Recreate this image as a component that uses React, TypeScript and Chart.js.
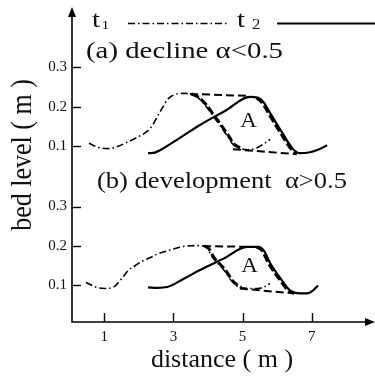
import React, { useEffect, useRef } from "react";
import { Chart, registerables } from "chart.js";

Chart.register(...registerables);

const FONT = "'Liberation Serif', 'Times New Roman', serif";

// axis ticks
const xTicks = [1, 3, 5, 7];
const yTicks = [0.1, 0.2, 0.3];
// vertical shift of each panel on the shared axis
const offsetA = 0.3525;
const offsetB = 0;

// ---- panel (a) decline ----
const aT1X = [0.56, 0.82, 1.11, 1.4, 1.66, 1.95, 2.24, 2.41, 2.55, 2.7, 2.82, 2.96, 3.1, 3.31, 3.48, 3.68, 3.91, 4.14, 4.35, 4.55, 4.72, 4.92, 5.13, 5.3, 5.45, 5.59, 5.8];
const aT1Y = [0.1075, 0.0975, 0.094, 0.1, 0.11, 0.1225, 0.1375, 0.155, 0.1775, 0.2, 0.2175, 0.2275, 0.2325, 0.234, 0.2325, 0.225, 0.205, 0.1775, 0.1525, 0.1275, 0.105, 0.095, 0.091, 0.0925, 0.0975, 0.105, 0.1175];
const aT2X = [2.27, 2.47, 2.61, 3.2, 3.77, 4.5, 5.21, 5.45, 5.62, 5.79, 6.14, 6.46, 6.66, 6.95, 7.18, 7.44];
const aT2Y = [0.0825, 0.084, 0.09, 0.122, 0.154, 0.19, 0.225, 0.2225, 0.21, 0.185, 0.135, 0.0925, 0.0825, 0.085, 0.091, 0.1025];
const aTopX = [3.48, 5.21];
const aTopY = [0.2325, 0.2275];
const aBotX = [4.72, 6.57];
const aBotY = [0.0925, 0.08];
const aT1LeeX = [3.52, 3.72, 3.95, 4.18, 4.39, 4.59, 4.76, 4.96];
const aT1LeeY = [0.2325, 0.225, 0.205, 0.1775, 0.1525, 0.1275, 0.105, 0.095];
const aT2LeeX = [5.4, 5.57, 5.74, 6.09, 6.41, 6.55];
const aT2LeeY = [0.2225, 0.21, 0.185, 0.135, 0.0925, 0.083];

// ---- panel (b) development ----
const bT1X = [0.47, 0.79, 1.02, 1.25, 1.51, 1.69, 1.89, 2.12, 2.32, 2.55, 2.82, 3.1, 3.39, 3.68, 3.86, 3.97, 4.14, 4.43, 4.72, 4.92, 5.21, 5.42, 5.59, 5.79];
const bT1Y = [0.1075, 0.095, 0.0925, 0.095, 0.1175, 0.1375, 0.15, 0.1625, 0.17, 0.18, 0.1875, 0.195, 0.2, 0.201, 0.2, 0.195, 0.17, 0.1425, 0.1075, 0.095, 0.0925, 0.0925, 0.095, 0.105];
const bT2X = [2.27, 2.55, 2.82, 3.3, 3.77, 4.45, 5.13, 5.45, 5.62, 5.79, 6.14, 6.37, 6.66, 6.86, 7.03, 7.18];
const bT2Y = [0.095, 0.094, 0.096, 0.117, 0.139, 0.168, 0.1975, 0.1975, 0.1875, 0.1575, 0.1125, 0.0875, 0.08, 0.08, 0.087, 0.1];
const bTopX = [3.86, 5.3];
const bTopY = [0.2, 0.1975];
const bBotX = [4.92, 6.46];
const bBotY = [0.0925, 0.08];
const bT1LeeX = [3.9, 4.01, 4.18, 4.47, 4.76, 4.96];
const bT1LeeY = [0.2, 0.195, 0.17, 0.1425, 0.1075, 0.095];
const bT2LeeX = [5.4, 5.57, 5.74, 6.09, 6.32, 6.5];
const bT2LeeY = [0.1975, 0.1875, 0.1575, 0.1125, 0.0875, 0.08];

const T1_DASH = [7, 3, 1.5, 3];

function pts(xs: number[], ys: number[], off: number) {
  return xs.map((x, i) => ({ x, y: ys[i] + off }));
}

function ds(data: any[], width: number, dash: number[], smooth = true) {
  return {
    data,
    borderColor: "#000",
    borderWidth: width,
    borderDash: dash,
    borderCapStyle: "butt",
    pointRadius: 0,
    fill: false,
    cubicInterpolationMode: smooth ? "monotone" : "default",
    tension: smooth ? 0.4 : 0,
  };
}

function stretchText(ctx: CanvasRenderingContext2D, text: string, x: number, y: number, font: string, sx: number, align: CanvasTextAlign = "left") {
  ctx.save();
  ctx.font = font;
  ctx.translate(x, y);
  ctx.scale(sx, 1);
  ctx.textAlign = align;
  ctx.textBaseline = "alphabetic";
  ctx.fillText(text, 0, 0);
  ctx.restore();
}

function fitText(ctx: CanvasRenderingContext2D, text: string, x: number, y: number, font: string, width: number) {
  ctx.save();
  ctx.font = font;
  const w = ctx.measureText(text).width;
  ctx.translate(x, y);
  ctx.scale(width / w, 1);
  ctx.textAlign = "left";
  ctx.textBaseline = "alphabetic";
  ctx.fillText(text, 0, 0);
  ctx.restore();
}

const decor = {
  id: "decor",
  afterDraw(chart: any) {
    const ctx: CanvasRenderingContext2D = chart.ctx;
    const xs = chart.scales.x;
    const ys = chart.scales.y;
    const left = chart.chartArea.left;
    const bottom = chart.chartArea.bottom;
    ctx.save();
    ctx.strokeStyle = "#000";
    ctx.fillStyle = "#000";
    ctx.lineWidth = 1.6;
    // axes
    ctx.beginPath();
    ctx.moveTo(left, 14);
    ctx.lineTo(left, bottom);
    ctx.lineTo(368, bottom);
    ctx.stroke();
    // arrowheads
    ctx.beginPath();
    ctx.moveTo(left, 7);
    ctx.lineTo(left - 4, 17);
    ctx.lineTo(left + 4, 17);
    ctx.closePath();
    ctx.fill();
    ctx.beginPath();
    ctx.moveTo(375, bottom);
    ctx.lineTo(365, bottom - 4);
    ctx.lineTo(365, bottom + 4);
    ctx.closePath();
    ctx.fill();
    // inward tick marks
    ctx.lineWidth = 1.4;
    ys.ticks.forEach((t: any) => {
      const p = Math.round(ys.getPixelForValue(t.value)) + 0.5;
      ctx.beginPath();
      ctx.moveTo(left, p);
      ctx.lineTo(left + 9, p);
      ctx.stroke();
    });
    xs.ticks.forEach((t: any) => {
      const p = Math.round(xs.getPixelForValue(t.value)) + 0.5;
      ctx.beginPath();
      ctx.moveTo(p, bottom);
      ctx.lineTo(p, bottom - 9);
      ctx.stroke();
    });

    ctx.fillStyle = "#111";
    // legend
    stretchText(ctx, "t", 92, 27, `24px ${FONT}`, 1.2);
    stretchText(ctx, "1", 101.5, 29, `13px ${FONT}`, 1.2);
    stretchText(ctx, "t", 237, 27, `24px ${FONT}`, 1.2);
    stretchText(ctx, "2", 252, 29, `14px ${FONT}`, 1.2);
    ctx.strokeStyle = "#000";
    ctx.lineWidth = 1.6;
    ctx.setLineDash(T1_DASH);
    ctx.beginPath();
    ctx.moveTo(128, 23.5);
    ctx.lineTo(228, 23.5);
    ctx.stroke();
    ctx.setLineDash([]);
    ctx.lineWidth = 2.2;
    ctx.beginPath();
    ctx.moveTo(277, 23.5);
    ctx.lineTo(375, 23.5);
    ctx.stroke();

    // panel labels
    fitText(ctx, "(a) decline \u03b1<0.5", 86, 58, `23px ${FONT}`, 197);
    fitText(ctx, "(b) development  \u03b1>0.5", 97, 188, `23px ${FONT}`, 250);

    // region labels
    stretchText(ctx, "A", 248.5, 127, `20px ${FONT}`, 1.15, "center");
    stretchText(ctx, "A", 249.5, 272, `20px ${FONT}`, 1.15, "center");

    // y axis title
    ctx.save();
    ctx.font = `26px ${FONT}`;
    ctx.translate(31, 155);
    ctx.rotate(-Math.PI / 2);
    ctx.scale(1, 1.15);
    ctx.textAlign = "center";
    ctx.textBaseline = "alphabetic";
    ctx.fillText("bed level ( m )", 0, 0);
    ctx.restore();
    ctx.restore();
  },
};

export default function App() {
  const ref = useRef<HTMLCanvasElement>(null);
  useEffect(() => {
    if (!ref.current) return;
    const yTickValues = [...yTicks.map((v) => v + offsetB), ...yTicks.map((v) => v + offsetA)];
    const datasets: any[] = [
      ds(pts(aTopX, aTopY, offsetA), 2, [8, 4], false),
      ds(pts(aBotX, aBotY, offsetA), 2, [8, 4], false),
      ds(pts(aT1X, aT1Y, offsetA), 1.6, T1_DASH),
      ds(pts(aT2X, aT2Y, offsetA), 2.2, []),
      ds(pts(aT1LeeX, aT1LeeY, offsetA), 3, [8, 3]),
      ds(pts(aT2LeeX, aT2LeeY, offsetA), 3, [8, 3]),
      ds(pts(bTopX, bTopY, offsetB), 2, [8, 4], false),
      ds(pts(bBotX, bBotY, offsetB), 2, [8, 4], false),
      ds(pts(bT1X, bT1Y, offsetB), 1.6, T1_DASH),
      ds(pts(bT2X, bT2Y, offsetB), 2.2, []),
      ds(pts(bT1LeeX, bT1LeeY, offsetB), 3, [8, 3]),
      ds(pts(bT2LeeX, bT2LeeY, offsetB), 3, [8, 3]),
    ];
    const chart = new Chart(ref.current, {
      type: "line",
      data: { datasets },
      plugins: [decor],
      options: {
        animation: false,
        responsive: false,
        maintainAspectRatio: false,
        layout: { padding: { left: 0, top: 10, right: 3, bottom: 0 } },
        plugins: { legend: { display: false }, tooltip: { enabled: false } },
        elements: { point: { radius: 0 } },
        scales: {
          x: {
            type: "linear",
            min: 0.07,
            max: 8.74,
            grid: { display: false, drawTicks: false },
            border: { display: false },
            afterBuildTicks: (s: any) => {
              s.ticks = xTicks.map((v) => ({ value: v }));
            },
            afterFit: (s: any) => {
              s.height = 54;
            },
            ticks: {
              autoSkip: false,
              maxRotation: 0,
              padding: 6,
              color: "#111",
              font: { family: FONT, size: 15 },
              callback: (v: any) => String(v),
            },
            title: {
              display: true,
              text: "distance ( m )",
              color: "#111",
              font: { family: FONT, size: 26 },
              padding: { top: 0, bottom: 0 },
            },
          },
          y: {
            type: "linear",
            min: 0.0075,
            max: 0.7875,
            grid: { display: false, drawTicks: false },
            border: { display: false },
            afterBuildTicks: (s: any) => {
              s.ticks = yTickValues.map((v) => ({ value: v }));
            },
            afterFit: (s: any) => {
              s.width = 72;
            },
            ticks: {
              autoSkip: false,
              padding: 5,
              color: "#111",
              font: { family: FONT, size: 15 },
              callback: (v: any) => {
                const val = v > 0.35 ? v - offsetA : v - offsetB;
                return val.toFixed(1);
              },
            },
          },
        },
      },
    } as any);
    return () => chart.destroy();
  }, []);
  return (
    <div style={{ position: "fixed", left: 0, top: 0, width: 375, height: 376, background: "#fff" }}>
      <canvas ref={ref} width={375} height={376} style={{ width: 375, height: 376, display: "block" }} />
    </div>
  );
}
